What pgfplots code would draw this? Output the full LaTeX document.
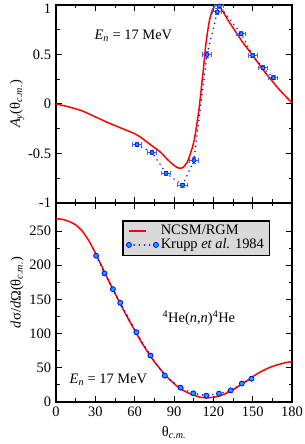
\documentclass[border=0pt]{standalone}
\usepackage{pgfplots}
\pgfplotsset{compat=1.18}
\usepackage{fontspec}
\setmainfont{Liberation Serif}
\newcommand{\fs}{\fontsize{14.5}{17}\selectfont}
\begin{document}
\fs
\begin{tikzpicture}
\path[use as bounding box] (0bp,0bp) rectangle (305bp,444bp);
\pgfplotsset{every axis/.append style={
  scale only axis, width=236bp, height=198bp,
  xmin=0, xmax=180, xtick={0,30,...,180}, minor x tick num=1,
  tick style={line width=1pt,black}, major tick length=6bp, minor tick length=3.5bp,
  axis line style={line width=1.4pt},
  tick label style={font=\fs}, label style={font=\fs},
  /pgf/number format/assume math mode=true,
  ylabel style={at={(axis description cs:-0.165,0.5)}, anchor=center},
}}
\tikzset{dotblue/.style={draw=blue, color=blue, line width=1.7pt, line cap=round, dash pattern=on 0.01pt off 5.2pt}}
% ---------- top panel ----------
\begin{axis}[name=top, at={(56bp,241bp)}, anchor=south west,
  ymin=-1, ymax=1, ytick={-1,-0.5,0,0.5,1}, yticklabels={-1,-0.5,0,0.5,{}},
  minor y tick num=1, xticklabels={},
  ylabel={\textit{A}\textsubscript{\textit{y}}(θ\textsubscript{\textit{c.m.}})}]
\addplot[red, line width=1.5pt, smooth, tension=0.4] coordinates {
(0,0) (10,-0.03) (20,-0.07) (30,-0.13) (40,-0.19) (50,-0.245) (60,-0.30) (65,-0.34)
(70,-0.39) (75,-0.44) (80,-0.49) (85,-0.56) (90,-0.62) (93,-0.645) (95,-0.65) (97,-0.64)
(100,-0.59) (102,-0.52) (104,-0.44) (105.5,-0.36) (107,-0.24) (109,-0.06) (111,0.18)
(112.5,0.36) (114,0.57) (115.5,0.72) (117,0.84) (119,0.94) (121,0.99) (123,1.0) (125,0.98)
(128,0.92) (131,0.85) (134,0.79) (138,0.71) (142,0.63) (146,0.56) (150,0.49) (155,0.40)
(160,0.31) (165,0.23) (170,0.15) (175,0.08) (180,0.01)};
\addplot[dotblue,
  mark=*, mark size=2pt, mark options={solid, fill=cyan, draw=blue, line width=0.8pt},
  error bars/.cd, x dir=both, x explicit, y dir=both, y explicit,
  error bar style={solid, blue!65, line width=1pt, line cap=butt}, error mark options={rotate=90, mark size=2.2pt, blue!65, line width=1pt}]
 table[x=x, y=y, x error=ex, y error=ey] {
x y ex ey
61.8 -0.41 3.5 0.02
73.3 -0.49 3.5 0.02
84.0 -0.70 3.5 0.02
96.5 -0.82 3.5 0.02
105.2 -0.57 3.5 0.03
115.2 0.50 3.5 0.03
123.0 0.93 3.5 0.03
124.5 0.99 3.5 0.03
141.3 0.71 3.5 0.02
150.0 0.49 3.5 0.02
157.8 0.365 3.5 0.02
165.8 0.265 3.5 0.02
};
\node[font=\fs] at (axis cs:59,0.69) {\textit{E}\textsubscript{\textit{n}} = 17 MeV};
\end{axis}
\node[font=\fs, anchor=east, yshift=-4bp] at (top.north west) {1};
% ---------- bottom panel ----------
\begin{axis}[at={(56bp,42bp)}, anchor=south west, height=199bp,
  ymin=0, ymax=291, ytick={0,50,...,250}, minor y tick num=1,
  xticklabels={0,30,60,90,120,150,180},
  ylabel={\textit{d}σ/\textit{d}Ω(θ\textsubscript{\textit{c.m.}})},
  ylabel style={at={(axis description cs:-0.165,0.55)}},
  xlabel={θ\textsubscript{\textit{c.m.}}},
  xlabel style={at={(axis description cs:0.5,-0.171)}, anchor=base},
  legend style={name=leg, at={(axis description cs:0.903,0.91)}, anchor=north east, fill=black!15,
    font=\fs, inner xsep=3pt, inner ysep=2pt, row sep=-2pt},
  legend cell align=left]
\addplot[red, line width=1.5pt, smooth, tension=0.4] coordinates {
(0,268) (5,267) (10,264) (15,259) (20,250) (25,236) (30,218) (35,198) (40,178) (45,159)
(50,140) (55,122) (60,105) (65,88) (70,73) (75,59) (80,47) (85,36) (90,27) (95,19)
(100,14) (105,10) (110,7) (115,6) (120,7) (125,9) (130,13) (135,18) (140,24) (145,30)
(150,37) (155,43) (160,48) (165,52) (170,55) (175,57.5) (180,59)};
\addlegendentry{NCSM/RGM}
\addplot[dotblue,
  mark=*, mark size=2.5pt, mark options={solid, fill=cyan, draw=blue, line width=0.8pt},
  legend image code/.code={\draw[dotblue] (0bp,0bp) -- (27bp,0bp);
    \draw[draw=blue, fill=cyan, line width=0.8pt, solid] (0bp,0bp) circle (2.5pt) (27bp,0bp) circle (2.5pt);}]
 coordinates {
(30.6,214) (37,188) (43.4,165) (49,145) (61.3,102) (72,68) (83,38.5) (95,21)
(104.7,12.7) (114.7,9.3) (124.3,12.2) (133.3,17) (141.7,27) (149.1,34)};
\addlegendentry{Krupp \textit{et al.} 1984}
\node[font=\fs] at (axis cs:40,32) {\textit{E}\textsubscript{\textit{n}} = 17 MeV};
\node[font=\fs] at (axis cs:109,123) {\textsuperscript{4}He(\textit{n},\textit{n})\textsuperscript{4}He};
\end{axis}
\draw[line width=1pt] (leg.south west) rectangle (leg.north east);
\end{tikzpicture}
\end{document}
